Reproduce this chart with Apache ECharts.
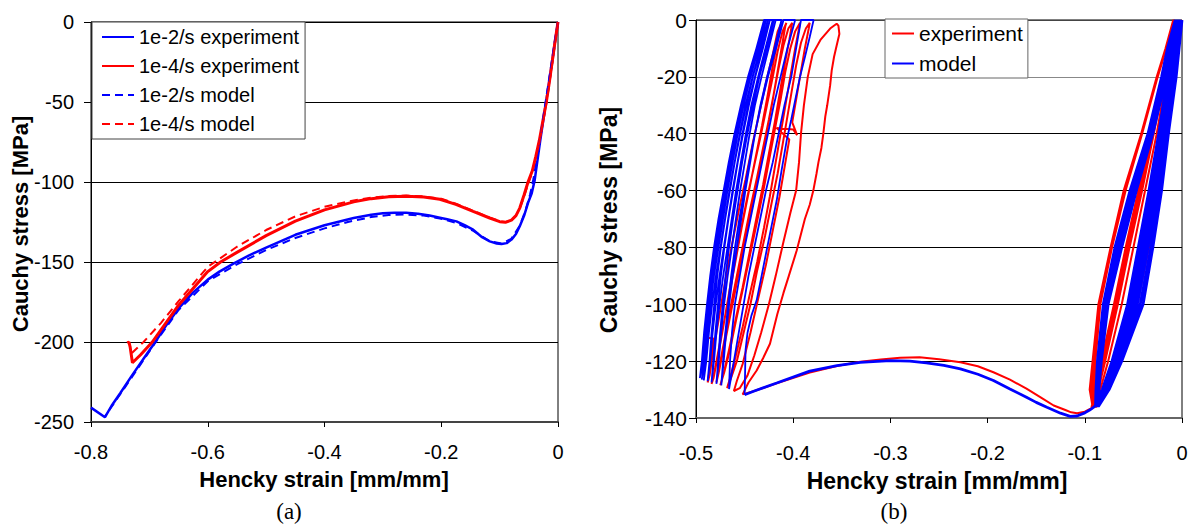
<!DOCTYPE html>
<html><head><meta charset="utf-8">
<script src="https://cdn.jsdelivr.net/npm/echarts/dist/echarts.min.js"></script>
<style>html,body{margin:0;padding:0;background:#fff}#c{width:1193px;height:525px}</style>
</head><body><div id="c"></div><script>
// ---------- tick values ----------
const leftXTicks = [-0.8, -0.6, -0.4, -0.2, 0];
const leftYTicks = [-250, -200, -150, -100, -50, 0];
const rightXTicks = [-0.5, -0.4, -0.3, -0.2, -0.1, 0];
const rightYTicks = [-140, -120, -100, -80, -60, -40, -20, 0];

// ---------- panel (a) ----------
const fastExp = [[0,0],[-0.005,-12],[-0.01,-25],[-0.015,-37],[-0.02,-49],[-0.025,-61],[-0.03,-73],[-0.035,-86],[-0.04,-99],[-0.045,-107],[-0.0513,-113],[-0.058,-121],[-0.0655,-127.7],[-0.072,-132.5],[-0.0797,-136],[-0.088,-138.2],[-0.0968,-138.8],[-0.105,-138.4],[-0.1169,-137.1],[-0.13,-134.5],[-0.1454,-129.8],[-0.16,-127],[-0.174,-124.6],[-0.19,-123.3],[-0.2024,-122.3],[-0.22,-121],[-0.24,-119.8],[-0.26,-119.2],[-0.28,-119.2],[-0.3,-119.6],[-0.32,-120.5],[-0.35,-122.5],[-0.4,-127],[-0.45,-133],[-0.5,-141],[-0.53,-146],[-0.556,-151],[-0.58,-156],[-0.6,-161],[-0.625,-169],[-0.65,-179],[-0.67,-189],[-0.69,-200],[-0.71,-210.5],[-0.73,-221],[-0.75,-232],[-0.765,-240],[-0.776,-247],[-0.8,-241]];
const slowExp = [[0,0],[-0.005,-12],[-0.01,-25],[-0.015,-38],[-0.02,-50],[-0.026,-62],[-0.032,-74],[-0.038,-84],[-0.044,-93],[-0.0513,-100],[-0.058,-108],[-0.0655,-116.3],[-0.072,-121],[-0.0797,-123.8],[-0.09,-125.2],[-0.0998,-124.8],[-0.117,-122.5],[-0.1454,-118.4],[-0.175,-114],[-0.2024,-110.8],[-0.23,-109.4],[-0.26,-108.9],[-0.29,-109.2],[-0.32,-110.4],[-0.35,-112.4],[-0.4,-117.4],[-0.45,-124.5],[-0.5,-133.5],[-0.55,-144],[-0.578,-150],[-0.6,-156],[-0.65,-177],[-0.695,-200],[-0.715,-208],[-0.729,-213],[-0.731,-208],[-0.733,-203],[-0.735,-200],[-0.738,-200.5]];
const fastModel = [[0,0],[-0.005,-11],[-0.01,-23],[-0.015,-35],[-0.02,-47],[-0.025,-59],[-0.03,-71],[-0.036,-85],[-0.042,-98],[-0.048,-108],[-0.055,-117],[-0.065,-127],[-0.08,-135.5],[-0.097,-138.5],[-0.117,-137],[-0.145,-130.5],[-0.175,-125.5],[-0.2,-123],[-0.23,-121],[-0.26,-120.3],[-0.29,-120.6],[-0.32,-121.9],[-0.36,-125],[-0.4,-129],[-0.45,-135],[-0.5,-142.5],[-0.55,-151.5],[-0.6,-162],[-0.65,-180],[-0.69,-200.5],[-0.73,-222],[-0.776,-246.5]];
const slowModel = [[0,0],[-0.005,-13],[-0.01,-26],[-0.015,-39],[-0.02,-51],[-0.026,-63],[-0.032,-75],[-0.038,-85],[-0.044,-94],[-0.051,-101],[-0.058,-109],[-0.065,-116],[-0.072,-121],[-0.08,-124],[-0.09,-125],[-0.1,-124.5],[-0.117,-122.3],[-0.145,-118],[-0.175,-113.5],[-0.2,-110.5],[-0.23,-109],[-0.26,-108.5],[-0.29,-108.8],[-0.32,-109.8],[-0.35,-111.5],[-0.4,-115.5],[-0.45,-121.5],[-0.5,-130],[-0.55,-140.5],[-0.6,-153],[-0.65,-174.5],[-0.68,-188],[-0.71,-200],[-0.733,-208]];

// ---------- panel (b): cycles near zero strain ----------
const downLevels = [0,-10,-20,-40,-60,-80,-100,-120,-130,-136];
const upLevels = [-136,-130,-120,-100,-80,-60,-40,-20,-10,0];
const expRightDownX = [
  [0,-0.004,-0.008,-0.017,-0.025,-0.034,-0.046,-0.064,-0.077,-0.088],
  [-0.007,-0.011,-0.016,-0.026,-0.038,-0.050,-0.062,-0.076,-0.084,-0.089],
  [-0.008,-0.012,-0.018,-0.029,-0.041,-0.054,-0.066,-0.079,-0.086,-0.090],
  [-0.008,-0.013,-0.019,-0.031,-0.043,-0.056,-0.068,-0.081,-0.087,-0.091],
  [-0.009,-0.014,-0.020,-0.032,-0.045,-0.058,-0.070,-0.083,-0.089,-0.093]
];
const expRightUpX = [
  [-0.089,-0.090,-0.089,-0.084,-0.072,-0.058,-0.041,-0.025,-0.016,-0.007],
  [-0.090,-0.092,-0.090,-0.085,-0.073,-0.059,-0.042,-0.026,-0.017,-0.008],
  [-0.091,-0.093,-0.091,-0.0855,-0.0725,-0.0595,-0.0415,-0.026,-0.017,-0.008],
  [-0.092,-0.095,-0.092,-0.086,-0.0735,-0.060,-0.042,-0.0255,-0.017,-0.009]
];
const modelRightDownX = [
  [0.000,-0.003,-0.006,-0.014,-0.021,-0.030,-0.040,-0.062,-0.075,-0.086],
  [-0.001,-0.004,-0.007,-0.015,-0.023,-0.032,-0.043,-0.063,-0.076,-0.087],
  [-0.002,-0.005,-0.009,-0.017,-0.025,-0.035,-0.046,-0.065,-0.077,-0.087],
  [-0.003,-0.006,-0.010,-0.018,-0.027,-0.037,-0.048,-0.067,-0.078,-0.088],
  [-0.004,-0.008,-0.012,-0.020,-0.029,-0.039,-0.050,-0.068,-0.079,-0.088],
  [-0.005,-0.009,-0.013,-0.022,-0.031,-0.041,-0.052,-0.070,-0.080,-0.089],
  [-0.006,-0.010,-0.014,-0.023,-0.032,-0.043,-0.054,-0.071,-0.081,-0.089],
  [-0.007,-0.011,-0.015,-0.024,-0.034,-0.045,-0.056,-0.072,-0.082,-0.090]
];
const modelRightUpX = [
  [-0.086,-0.0855,-0.083,-0.076,-0.062,-0.047,-0.030,-0.016,-0.009,-0.001],
  [-0.087,-0.086,-0.084,-0.077,-0.063,-0.048,-0.031,-0.017,-0.010,-0.002],
  [-0.087,-0.0865,-0.085,-0.078,-0.065,-0.050,-0.032,-0.018,-0.011,-0.003],
  [-0.088,-0.087,-0.085,-0.079,-0.066,-0.051,-0.033,-0.019,-0.012,-0.004],
  [-0.088,-0.0875,-0.086,-0.080,-0.067,-0.052,-0.034,-0.020,-0.013,-0.005],
  [-0.089,-0.088,-0.087,-0.080,-0.068,-0.053,-0.035,-0.021,-0.014,-0.006],
  [-0.089,-0.0885,-0.087,-0.081,-0.069,-0.0535,-0.035,-0.021,-0.015,-0.007]
];

// ---------- panel (b): monotonic part ----------
const expMain = [[-0.093,-136.5],[-0.1,-137.8],[-0.108,-138.3],[-0.114,-138],[-0.12,-137.2],[-0.132,-135.6],[-0.145,-132.8],[-0.16,-129.7],[-0.177,-126.5],[-0.194,-123.9],[-0.21,-121.8],[-0.228,-120.4],[-0.25,-119.3],[-0.27,-118.6],[-0.29,-118.8],[-0.31,-119.4],[-0.331,-120.2],[-0.355,-121.7],[-0.383,-124],[-0.417,-127.8],[-0.44,-130.5],[-0.452,-131.7]];
const modelMain = [[-0.09,-136.2],[-0.095,-137.2],[-0.1,-138.2],[-0.108,-139.3],[-0.115,-139.4],[-0.125,-138.3],[-0.139,-136.2],[-0.15,-134.5],[-0.16,-132.7],[-0.177,-129.8],[-0.194,-126.8],[-0.21,-124.6],[-0.228,-122.7],[-0.245,-121.5],[-0.263,-120.6],[-0.28,-120],[-0.3,-119.8],[-0.331,-120.4],[-0.355,-121.6],[-0.383,-123.5],[-0.417,-127.7],[-0.44,-130.5],[-0.45,-131.8]];

// ---------- panel (b): cycles at large strain ----------
const expLeft = [
[-0.451,-131],[-0.446,-127.5],[-0.4376,-123.3],[-0.431,-119],[-0.4239,-113.9],[-0.4163,-103.4],[-0.41,-96],[-0.4045,-90],[-0.3964,-81.1],[-0.391,-74],[-0.388,-70],[-0.383,-65],[-0.3793,-60],[-0.376,-54],[-0.374,-50],[-0.371,-45],[-0.369,-40],[-0.367,-34],[-0.365,-30],[-0.362,-23],[-0.3604,-17.8],[-0.358,-13],[-0.356,-10],[-0.3525,-4.9],[-0.3535,-2],[-0.3553,-1.3],
[-0.362,-3],[-0.372,-7],[-0.38,-12],[-0.385,-20],[-0.389,-30],[-0.392,-40],[-0.394,-50],[-0.397,-60],[-0.403,-68],[-0.41,-78],[-0.418,-90],[-0.425,-100],[-0.433,-110],[-0.44,-118],[-0.447,-125],[-0.455,-129.5],[-0.461,-130.5],
[-0.458,-127],[-0.452,-121],[-0.444,-110],[-0.436,-98],[-0.428,-86],[-0.421,-74],[-0.414,-62],[-0.408,-50],[-0.404,-42],[-0.417,-38],[-0.40,-38.5],[-0.396,-40.5],[-0.401,-36],[-0.398,-30],[-0.393,-20],[-0.388,-10],[-0.384,-3],[-0.383,-1],
[-0.387,-3],[-0.392,-8],[-0.397,-16],[-0.402,-26],[-0.407,-36],[-0.411,-44],[-0.416,-54],[-0.422,-64],[-0.429,-76],[-0.437,-88],[-0.444,-100],[-0.451,-110],[-0.458,-120],[-0.464,-126],[-0.468,-129.5],
[-0.465,-126],[-0.459,-118],[-0.452,-108],[-0.445,-97],[-0.437,-85],[-0.43,-73],[-0.424,-62],[-0.418,-50],[-0.413,-40],[-0.408,-30],[-0.403,-20],[-0.398,-10],[-0.394,-3],[-0.393,-1],
[-0.398,-4],[-0.403,-10],[-0.408,-18],[-0.413,-28],[-0.418,-37],[-0.423,-46],[-0.429,-57],[-0.436,-69],[-0.444,-82],[-0.452,-95],[-0.459,-106],[-0.465,-116],[-0.471,-124],[-0.475,-128.5],
[-0.472,-125],[-0.466,-116],[-0.459,-105],[-0.452,-94],[-0.445,-82],[-0.438,-70],[-0.431,-58],[-0.425,-47],[-0.419,-36],[-0.414,-26],[-0.409,-16],[-0.404,-7],[-0.401,-1],
[-0.405,-3],[-0.41,-9],[-0.415,-17],[-0.42,-26],[-0.425,-35],[-0.431,-45],[-0.437,-55],[-0.444,-66],[-0.451,-78],[-0.458,-90],[-0.465,-102],[-0.471,-113],[-0.476,-122],[-0.479,-127.5],
[-0.476,-123],[-0.47,-113],[-0.463,-101],[-0.456,-89],[-0.449,-77],[-0.442,-65],[-0.435,-53],[-0.428,-41],[-0.422,-30],[-0.417,-20],[-0.412,-10],[-0.408,-2],[-0.407,-1],
[-0.411,-4],[-0.416,-11],[-0.421,-20],[-0.427,-30],[-0.433,-40],[-0.44,-51],[-0.447,-62],[-0.454,-74],[-0.461,-86],[-0.467,-98],[-0.473,-110],[-0.478,-119],[-0.482,-126],[-0.484,-128],
[-0.48,-122],[-0.474,-111],[-0.467,-99],[-0.46,-86],[-0.453,-73],[-0.446,-61],[-0.439,-49],[-0.432,-37],[-0.426,-26],[-0.42,-14],[-0.415,-5],[-0.412,-1],
[-0.416,-4],[-0.421,-12],[-0.428,-22],[-0.435,-33],[-0.442,-44],[-0.449,-56],[-0.456,-67],[-0.463,-79],[-0.469,-90],[-0.474,-100],[-0.479,-110],[-0.483,-118],[-0.486,-125],[-0.488,-127.5],
[-0.485,-121],[-0.482,-112],[-0.4925,-111.6]
];
const modelLeft = [
[-0.45,-131.8],[-0.4495,-124],[-0.449,-116],[-0.447,-110],[-0.443,-104],[-0.4376,-98.6],[-0.4325,-90],[-0.4273,-81],[-0.422,-72],[-0.417,-63.5],[-0.412,-53],[-0.4067,-42.4],[-0.402,-35],[-0.398,-28.3],[-0.393,-20],[-0.388,-13.1],[-0.383,-6],[-0.379,0],
[-0.392,0],
[-0.397,-10],[-0.402,-20],[-0.409,-30],[-0.415,-40],[-0.421,-50],[-0.428,-60],[-0.434,-70],[-0.44,-80],[-0.446,-90],[-0.451,-100],[-0.456,-110],[-0.461,-120],[-0.466,-129.8],
[-0.465,-120],[-0.463,-110],[-0.46,-100],[-0.455,-90],[-0.45,-80],[-0.444,-70],[-0.438,-60],[-0.432,-50],[-0.426,-40],[-0.42,-30],[-0.413,-20],[-0.406,-10],[-0.398,0],
[-0.41,0],
[-0.4177,-10],[-0.426,-20],[-0.433,-30],[-0.4394,-40],[-0.4452,-50],[-0.4503,-60],[-0.4554,-70],[-0.4599,-80],[-0.4638,-90],[-0.467,-100],[-0.4698,-110],[-0.4721,-120],[-0.474,-128.5],
[-0.4715,-120],[-0.469,-110],[-0.4659,-100],[-0.4622,-90],[-0.4579,-80],[-0.4535,-70],[-0.4492,-60],[-0.4442,-50],[-0.4393,-40],[-0.4337,-30],[-0.4269,-20],[-0.4194,-10],[-0.412,0],
[-0.42,0],
[-0.4271,-10],[-0.4348,-20],[-0.4412,-30],[-0.4471,-40],[-0.4525,-50],[-0.4572,-60],[-0.4619,-70],[-0.466,-80],[-0.4696,-90],[-0.4725,-100],[-0.4752,-110],[-0.4772,-120],[-0.479,-128],
[-0.4766,-120],[-0.4741,-110],[-0.4711,-100],[-0.4674,-90],[-0.4631,-80],[-0.4589,-70],[-0.4546,-60],[-0.4497,-50],[-0.4448,-40],[-0.4394,-30],[-0.4326,-20],[-0.4253,-10],[-0.418,0],
[-0.424,0],
[-0.4312,-10],[-0.439,-20],[-0.4456,-30],[-0.4516,-40],[-0.457,-50],[-0.4618,-60],[-0.4666,-70],[-0.4708,-80],[-0.4744,-90],[-0.4774,-100],[-0.4801,-110],[-0.4822,-120],[-0.484,-127.5],
[-0.4815,-120],[-0.479,-110],[-0.4758,-100],[-0.472,-90],[-0.4676,-80],[-0.4632,-70],[-0.4588,-60],[-0.4538,-50],[-0.4487,-40],[-0.443,-30],[-0.4361,-20],[-0.4286,-10],[-0.421,0],
[-0.426,0],
[-0.4334,-10],[-0.4415,-20],[-0.4483,-30],[-0.4545,-40],[-0.4601,-50],[-0.4651,-60],[-0.47,-70],[-0.4744,-80],[-0.4781,-90],[-0.4812,-100],[-0.484,-110],[-0.4861,-120],[-0.488,-127],
[-0.4854,-120],[-0.4829,-110],[-0.4797,-100],[-0.4758,-90],[-0.4714,-80],[-0.4669,-70],[-0.4624,-60],[-0.4573,-50],[-0.4522,-40],[-0.4464,-30],[-0.4394,-20],[-0.4317,-10],[-0.424,0],
[-0.428,0],
[-0.4357,-10],[-0.444,-20],[-0.451,-30],[-0.4574,-40],[-0.4632,-50],[-0.4683,-60],[-0.4734,-70],[-0.4779,-80],[-0.4818,-90],[-0.485,-100],[-0.4878,-110],[-0.4901,-120],[-0.492,-126.8],
[-0.4894,-120],[-0.4867,-110],[-0.4834,-100],[-0.4795,-90],[-0.4748,-80],[-0.4702,-70],[-0.4656,-60],[-0.4603,-50],[-0.455,-40],[-0.4491,-30],[-0.4418,-20],[-0.4339,-10],[-0.426,0],
[-0.429,0],
[-0.4368,-10],[-0.4453,-20],[-0.4524,-30],[-0.4589,-40],[-0.4648,-50],[-0.47,-60],[-0.4752,-70],[-0.4797,-80],[-0.4836,-90],[-0.4869,-100],[-0.4898,-110],[-0.4921,-120],[-0.494,-126.5],
[-0.4914,-120],[-0.4887,-110],[-0.4854,-100],[-0.4815,-90],[-0.4768,-80],[-0.4722,-70],[-0.4676,-60],[-0.4623,-50],[-0.457,-40],[-0.4511,-30],[-0.4438,-20],[-0.4359,-10],[-0.428,0],
[-0.43,0],
[-0.4379,-10],[-0.4465,-20],[-0.4538,-30],[-0.4604,-40],[-0.4663,-50],[-0.4716,-60],[-0.4769,-70],[-0.4815,-80],[-0.4854,-90],[-0.4887,-100],[-0.4917,-110],[-0.494,-120],[-0.496,-126],
[-0.4934,-120],[-0.4907,-110],[-0.4874,-100],[-0.4835,-90],[-0.4788,-80],[-0.4742,-70],[-0.4696,-60],[-0.4643,-50],[-0.459,-40],[-0.4531,-30],[-0.4458,-20],[-0.4379,-10],[-0.43,0]
];

// ---------- build ----------
const FONT = "'Liberation Sans', Arial, Helvetica, sans-serif";
function zip(levels, xs) { return xs.map((x, i) => [x, levels[i]]); }
function cycles(downXs, upXs) {
  let out = [];
  for (let i = 0; i < downXs.length; i++) {
    out = out.concat(zip(downLevels, downXs[i]));
    if (i < upXs.length) out = out.concat(zip(upLevels, upXs[i]));
  }
  return out;
}
const expB = cycles(expRightDownX, expRightUpX).concat(expMain, expLeft);
const modelB1 = cycles(modelRightDownX, modelRightUpX).concat(modelMain);
const modelB2 = modelLeft;

function line(name, data, color, width, dashed, idx) {
  return {
    name, type: 'line', xAxisIndex: idx, yAxisIndex: idx, data,
    showSymbol: false, symbol: 'none', smooth: false, animation: false, silent: true, clip: true,
    lineStyle: { color, width, type: dashed ? [8, 5] : 'solid' }, itemStyle: { color }
  };
}
function xAxis(idx, ticks, margin, lineColor) {
  return {
    gridIndex: idx, type: 'value', min: ticks[0], max: ticks[ticks.length - 1],
    interval: +(ticks[1] - ticks[0]).toFixed(6),
    axisLine: { show: true, onZero: false, lineStyle: { color: lineColor, width: 2 } },
    axisTick: { show: true, length: 5, lineStyle: { color: '#000' } },
    axisLabel: { margin, fontSize: 20, color: '#000', fontFamily: FONT },
    splitLine: { show: false }
  };
}
function yAxis(idx, ticks, margin, fontSize, splitColors) {
  return {
    gridIndex: idx, type: 'value', min: ticks[0], max: ticks[ticks.length - 1],
    interval: ticks[1] - ticks[0],
    axisLine: { show: true, onZero: false, lineStyle: { color: '#000', width: 1 } },
    axisTick: { show: true, length: 7, lineStyle: { color: '#000' } },
    axisLabel: { margin, fontSize, color: '#000', fontFamily: FONT },
    splitLine: { show: true, lineStyle: { color: splitColors, width: 1 } }
  };
}
function label(text, x, y, rot, font) {
  return { type: 'text', x, y, rotation: rot, silent: true,
    style: { text, font, fill: '#000', textAlign: 'center', textVerticalAlign: 'middle', verticalAlign: 'middle' } };
}

const chart = echarts.init(document.getElementById('c'), null, { renderer: 'svg', width: 1193, height: 525 });
chart.setOption({
  animation: false,
  backgroundColor: '#fff',
  grid: [
    { left: 91, top: 22, width: 467, height: 400, show: true, borderColor: '#000', borderWidth: 1 },
    { left: 696, top: 20, width: 486, height: 398, show: true, borderColor: '#000', borderWidth: 1 }
  ],
  xAxis: [xAxis(0, leftXTicks, 20, '#444'), xAxis(1, rightXTicks, 25, '#666')],
  yAxis: [
    yAxis(0, leftYTicks, 17, 20, '#000'),
    yAxis(1, rightYTicks, 9, 21, ['#000','#000','#000','#000','#000','#000','#888','#444'])
  ],
  legend: [
    { left: 92, top: 22, orient: 'vertical', selectedMode: false,
      data: ['1e-2/s experiment', '1e-4/s experiment', '1e-2/s model', '1e-4/s model'],
      backgroundColor: '#fff', borderColor: '#444', borderWidth: 1, padding: [5, 6, 5, 9],
      itemWidth: 32, itemHeight: 14, itemGap: 9,
      itemStyle: { opacity: 0, borderWidth: 0 },
      textStyle: { fontSize: 20, lineHeight: 20, color: '#000', fontFamily: FONT } },
    { left: 885, top: 19, orient: 'vertical', selectedMode: false,
      data: ['experiment', 'model'],
      backgroundColor: '#fff', borderColor: '#666', borderWidth: 1, padding: [4, 5, 4, 6],
      itemWidth: 22, itemHeight: 14, itemGap: 9,
      itemStyle: { opacity: 0, borderWidth: 0 },
      textStyle: { fontSize: 21, lineHeight: 21, color: '#000', fontFamily: FONT } }
  ],
  graphic: [
    label('Cauchy stress [MPa]', 20, 224, Math.PI / 2, `bold 22px ${FONT}`),
    label('Hencky strain [mm/mm]', 324, 479, 0, `bold 22px ${FONT}`),
    label('(a)', 289, 511, 0, `23px 'Liberation Serif', 'Times New Roman', serif`),
    label('Cauchy stress [MPa]', 609, 220, Math.PI / 2, `bold 23px ${FONT}`),
    label('Hencky strain [mm/mm]', 937, 481, 0, `bold 23px ${FONT}`),
    label('(b)', 894, 511, 0, `23px 'Liberation Serif', 'Times New Roman', serif`)
  ],
  series: [
    line('1e-2/s experiment', fastExp, '#0000ff', 2.5, false, 0),
    line('1e-4/s experiment', slowExp, '#ff0000', 3, false, 0),
    line('1e-2/s model', fastModel, '#0000ff', 2, true, 0),
    line('1e-4/s model', slowModel, '#ff0000', 2, true, 0),
    line('experiment', expB, '#ff0000', 2, false, 1),
    line('model', modelB1, '#0000ff', 2.8, false, 1),
    line('model', modelB2, '#0000ff', 1.8, false, 1)
  ]
});
</script></body></html>
